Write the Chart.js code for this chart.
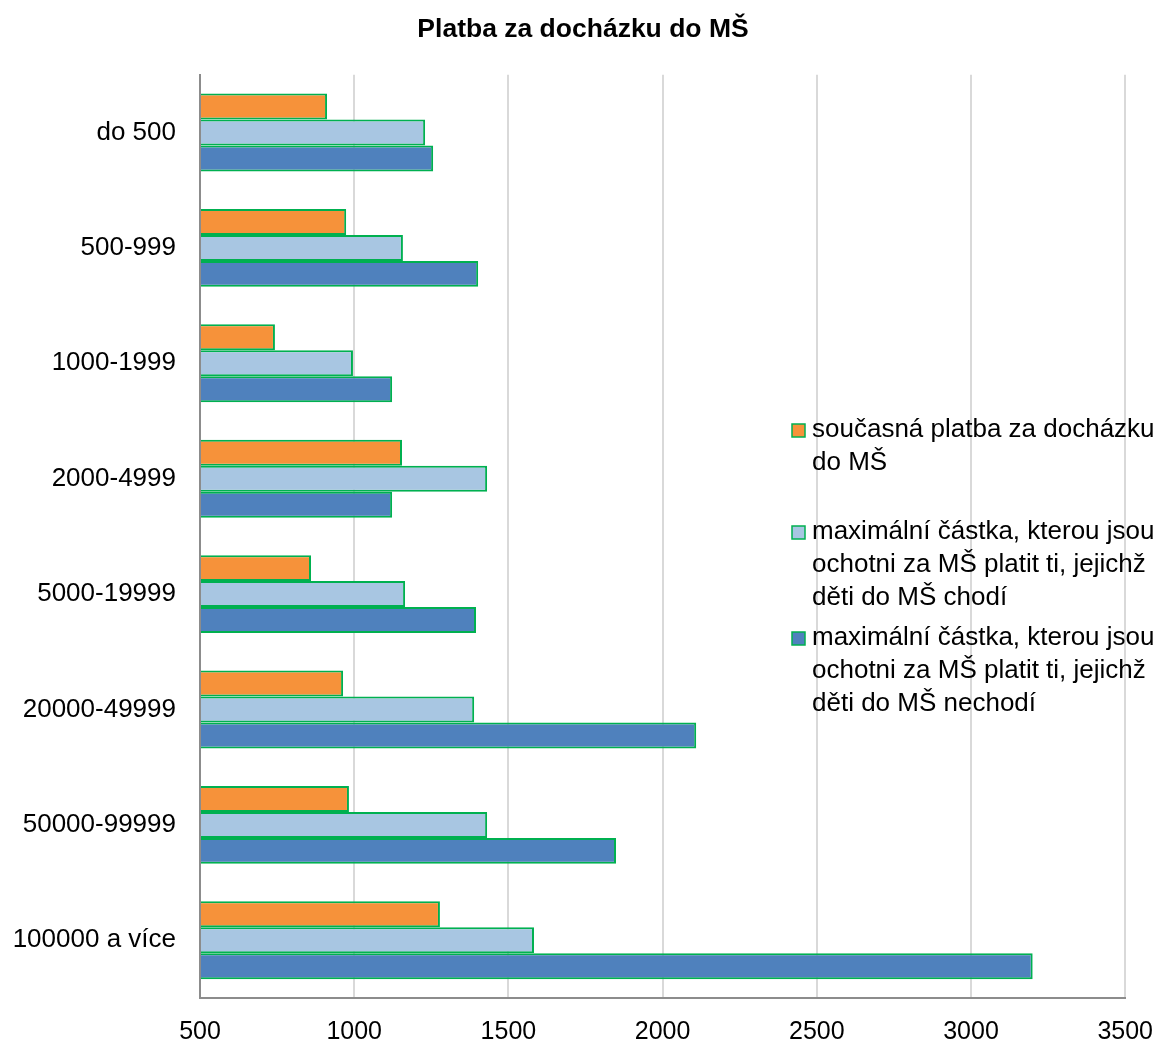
<!DOCTYPE html>
<html>
<head>
<meta charset="utf-8">
<script src="https://cdn.jsdelivr.net/npm/chart.js@4"></script>
<style>
  html, body { margin: 0; padding: 0; background: #fff; }
  #wrap { width: 1166px; height: 1041px; }
</style>
</head>
<body>
<div id="wrap"><canvas id="chart"></canvas></div>
<script>
// data
const categories = ['do 500', '500-999', '1000-1999', '2000-4999', '5000-19999', '20000-49999', '50000-99999', '100000 a více'];
const currentPay = [912, 974, 743, 1155, 860, 964, 983, 1278];
const maxAttending = [1230, 1158, 996, 1431, 1165, 1389, 1431, 1583];
const maxNotAttending = [1256, 1402, 1123, 1123, 1395, 2109, 1849, 3200];
const seriesNames = [
  ['současná platba za docházku', 'do MŠ'],
  ['maximální částka, kterou jsou', 'ochotni za MŠ platit ti, jejichž', 'děti do MŠ chodí'],
  ['maximální částka, kterou jsou', 'ochotni za MŠ platit ti, jejichž', 'děti do MŠ nechodí']
];
const xTicks = [500, 1000, 1500, 2000, 2500, 3000, 3500];

const FONT = '"Liberation Sans", Arial, sans-serif';
const GREEN = '#00b050';
const colors = ['#f6923a', '#a8c6e2', '#4f81bd'];

// legend sits inside the plot on the right, like the Excel original
const sideLegend = {
  id: 'sideLegend',
  afterDraw(chart, args, opts) {
    const ctx = chart.ctx;
    ctx.save();
    ctx.font = opts.fontSize + 'px ' + FONT;
    ctx.textAlign = 'left';
    ctx.textBaseline = 'middle';
    chart.data.datasets.forEach((ds, i) => {
      const y0 = opts.rows[i];
      ctx.fillStyle = ds.backgroundColor;
      ctx.fillRect(opts.boxX, y0 - 6, 13, 13);
      ctx.strokeStyle = GREEN;
      ctx.lineWidth = 1.5;
      ctx.strokeRect(opts.boxX, y0 - 6, 13, 13);
      ctx.fillStyle = '#000';
      seriesNames[i].forEach((line, j) => {
        ctx.fillText(line, opts.textX, y0 + j * opts.lineH);
      });
    });
    ctx.restore();
  }
};

function makeSet(idx, data) {
  return {
    label: seriesNames[idx].join(' '),
    data: data,
    backgroundColor: colors[idx],
    borderColor: GREEN,
    borderWidth: 2,
    base: xTicks[0],
    barPercentage: 1,
    categoryPercentage: 0.675
  };
}

new Chart(document.getElementById('chart'), {
  type: 'bar',
  data: {
    labels: categories,
    datasets: [
      makeSet(0, currentPay),
      makeSet(1, maxAttending),
      makeSet(2, maxNotAttending)
    ]
  },
  options: {
    indexAxis: 'y',
    responsive: true,
    maintainAspectRatio: false,
    animation: false,
    layout: { padding: 0 },
    plugins: {
      legend: { display: false },
      tooltip: { enabled: false },
      title: {
        display: true,
        text: 'Platba za docházku do MŠ',
        color: '#000',
        font: { family: FONT, size: 26.5, weight: 'bold' },
        padding: { top: 14, bottom: 29 }
      },
      sideLegend: { boxX: 792, textX: 812, fontSize: 26, lineH: 33, rows: [430, 532, 638] }
    },
    scales: {
      x: {
        min: 500,
        max: 3500,
        afterBuildTicks: s => { s.ticks = xTicks.map(v => ({ value: v })); },
        afterFit: s => { s.height = 43; },
        // invisible tick marks push labels down without widening the right margin
        grid: { color: '#d9d9d9', lineWidth: 2, drawTicks: true, tickLength: 6, tickColor: 'rgba(0,0,0,0)' },
        border: { color: '#8c8c8c', width: 2 },
        ticks: {
          color: '#000',
          padding: 13,
          font: { family: FONT, size: 25 },
          callback: v => String(v)
        }
      },
      y: {
        afterFit: s => { s.width = 200; },
        grid: { display: false, drawTicks: false },
        border: { color: '#8c8c8c', width: 2 },
        ticks: { color: '#000', padding: 24, font: { family: FONT, size: 26 } }
      }
    }
  },
  plugins: [sideLegend]
});
</script>
</body>
</html>
